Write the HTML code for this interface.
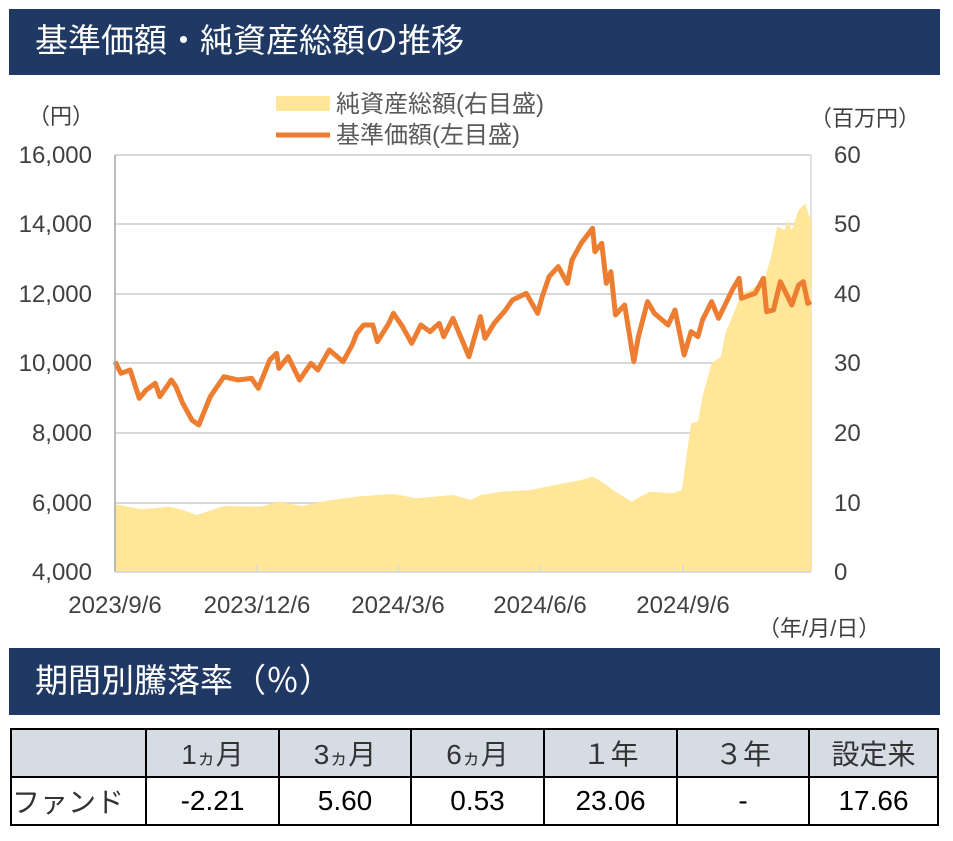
<!DOCTYPE html>
<html><head><meta charset="utf-8"><style>
body{margin:0;background:#fff;width:953px;height:841px;overflow:hidden;font-family:"Liberation Sans","Noto Sans CJK JP",sans-serif;}
.bar{position:absolute;left:9px;width:931px;background:#1f3864;color:#fff;font-size:33px;}
table{position:absolute;left:10px;top:728px;border-collapse:collapse;table-layout:fixed;width:929px;}
td{border:2px solid #000;height:46px;text-align:center;font-size:28px;color:#000;padding:0;}
tr.h td{background:#d6dce4;color:#333;}
</style></head><body>
<div class="bar" style="top:9px;height:66px;line-height:64px;"><span style="margin-left:26px">基準価額・純資産総額の推移</span></div>
<svg width="953" height="640" style="position:absolute;left:0;top:0" font-family="Liberation Sans, Noto Sans CJK JP, sans-serif">
<g stroke="#d9d9d9" stroke-width="2">
<line x1="115" x2="811" y1="155" y2="155"/><line x1="115" x2="811" y1="224" y2="224"/><line x1="115" x2="811" y1="294" y2="294"/><line x1="115" x2="811" y1="363" y2="363"/><line x1="115" x2="811" y1="433" y2="433"/><line x1="115" x2="811" y1="503" y2="503"/>
</g>
<line x1="811" x2="811" y1="155" y2="572" stroke="#d9d9d9" stroke-width="1.5"/>
<g transform="translate(115,150) scale(0.4579,0.3333) translate(-32,0)">
<polygon fill="#ffe699" points="32,1063 90,1078 150,1070 180,1080 210,1095 270,1068 350,1070 390,1055 440,1068 490,1053 560,1040 640,1032 690,1045 770,1035 810,1050 830,1035 880,1025 940,1020 1000,1003 1050,990 1075,980 1100,1000 1125,1025 1160,1055 1200,1025 1250,1030 1270,1020 1278,940 1290,820 1305,815 1315,740 1335,640 1355,620 1365,550 1380,500 1400,430 1420,420 1450,390 1465,320 1478,230 1495,240 1500,210 1510,240 1525,180 1540,160 1548,200 1552,200 1552,1268 32,1268"/>
<polyline fill="none" stroke="#ed7d31" stroke-width="5" vector-effect="non-scaling-stroke" stroke-linejoin="round" points="32,635 45,670 65,660 85,745 100,720 120,700 130,740 155,690 165,710 180,760 200,810 215,825 240,740 270,680 300,690 330,685 345,715 370,630 385,610 390,655 410,620 435,690 460,640 475,660 500,600 530,635 550,585 560,550 575,525 595,525 605,575 630,520 640,490 660,530 680,580 700,525 720,545 740,520 750,560 770,505 805,620 830,500 840,565 860,520 885,480 900,450 930,430 955,490 965,440 980,380 1000,350 1020,400 1030,330 1050,280 1075,235 1080,305 1095,280 1105,400 1115,365 1125,495 1145,465 1165,635 1175,560 1195,455 1210,490 1240,525 1255,480 1275,615 1290,545 1305,560 1315,510 1335,455 1350,505 1380,420 1395,385 1400,445 1430,430 1448,385 1455,485 1470,480 1485,395 1510,465 1525,405 1535,395 1545,460 1552,455"/>
</g>
<line x1="115" x2="115" y1="155" y2="572" stroke="#a6a6a6" stroke-width="1.5"/>
<line x1="115" x2="811" y1="572" y2="572" stroke="#d9d9d9" stroke-width="2"/>
<g stroke="#d9d9d9" stroke-width="1.5"><line x1="257" x2="257" y1="565" y2="572"/><line x1="398" x2="398" y1="565" y2="572"/><line x1="540" x2="540" y1="565" y2="572"/><line x1="683" x2="683" y1="565" y2="572"/></g>
<g font-size="24" fill="#404040" text-anchor="end">
<text x="92" y="163">16,000</text><text x="92" y="232">14,000</text><text x="92" y="302">12,000</text><text x="92" y="371">10,000</text><text x="92" y="441">8,000</text><text x="92" y="511">6,000</text><text x="92" y="580">4,000</text>
</g>
<g font-size="24" fill="#404040">
<text x="834" y="163">60</text><text x="834" y="232">50</text><text x="834" y="302">40</text><text x="834" y="371">30</text><text x="834" y="441">20</text><text x="834" y="511">10</text><text x="834" y="580">0</text>
</g>
<g font-size="24" fill="#404040" text-anchor="middle">
<text x="115" y="613">2023/9/6</text><text x="257" y="613">2023/12/6</text><text x="398" y="613">2024/3/6</text><text x="540" y="613">2024/6/6</text><text x="683" y="613">2024/9/6</text>
</g>
<text x="28" y="124" font-size="22" fill="#404040">（円）</text>
<text x="810" y="126" font-size="22" fill="#404040">（百万円）</text>
<text x="758" y="636" font-size="22" fill="#404040">（年/月/日）</text>
<rect x="276" y="96" width="54" height="15" fill="#ffe699"/>
<text x="336" y="112" font-size="24" fill="#595959">純資産総額(右目盛)</text>
<line x1="276" x2="330" y1="135" y2="135" stroke="#ed7d31" stroke-width="5"/>
<text x="336" y="143" font-size="24" fill="#595959">基準価額(左目盛)</text>
</svg>
<div class="bar" style="top:648px;height:67px;line-height:66px;"><span style="margin-left:26px">期間別騰落率（％）</span></div>
<table>
<colgroup><col style="width:135px"><col style="width:133px"><col style="width:132px"><col style="width:133px"><col style="width:133px"><col style="width:132px"><col></colgroup>
<tr class="h"><td></td><td>1<span style="font-size:19px">ヵ</span>月</td><td>3<span style="font-size:19px">ヵ</span>月</td><td>6<span style="font-size:19px">ヵ</span>月</td><td>１年</td><td>３年</td><td>設定来</td></tr>
<tr><td style="text-align:left;color:#333">ファンド</td><td>-2.21</td><td>5.60</td><td>0.53</td><td>23.06</td><td>-</td><td>17.66</td></tr>
</table>
</body></html>
